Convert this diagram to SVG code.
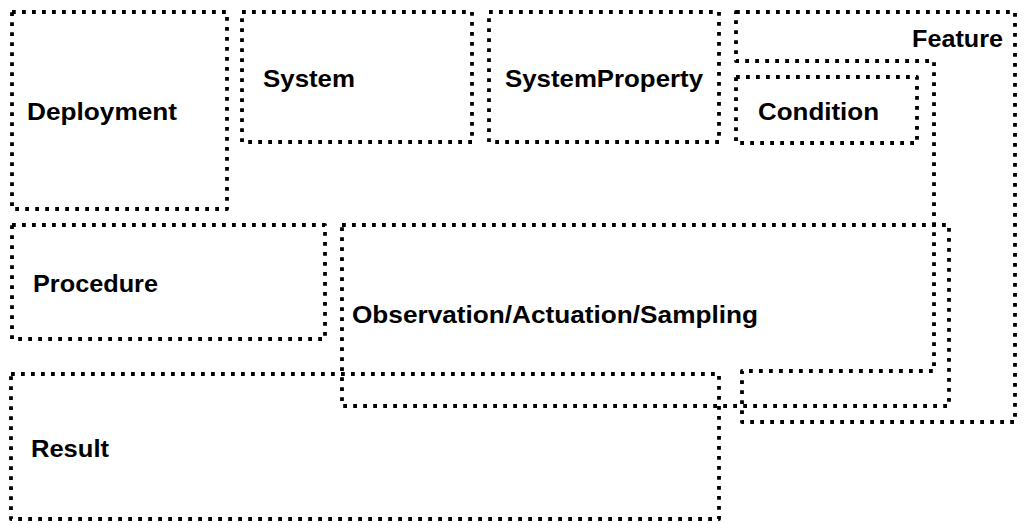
<svg xmlns="http://www.w3.org/2000/svg" width="1026" height="523" viewBox="0 0 1026 523">
  <style>
    .box { fill: none; stroke: #000; stroke-width: 3.8; stroke-dasharray: 3.8 6.2; stroke-linejoin: round; }
    .lbl { font-family: "Liberation Sans", Arial, sans-serif; font-weight: bold; font-size: 24.5px; fill: #000; }
  </style>
  <rect width="1026" height="523" fill="#fff"/>

  <g id="feature">
    <path class="box" d="M736,12 L1015,12 L1015,422 L742,422 L742,371 L934,371 L934,61 L736,61 Z"/>
    <text class="lbl" x="1003" y="47" text-anchor="end" textLength="91" lengthAdjust="spacingAndGlyphs">Feature</text>
  </g>

  <g id="deployment">
    <rect class="box" x="12" y="12" width="215" height="197"/>
    <text class="lbl" x="27" y="120" textLength="150" lengthAdjust="spacingAndGlyphs">Deployment</text>
  </g>

  <g id="system">
    <rect class="box" x="242" y="12" width="230" height="130"/>
    <text class="lbl" x="263" y="87" textLength="92" lengthAdjust="spacingAndGlyphs">System</text>
  </g>

  <g id="system-property">
    <rect class="box" x="489" y="12" width="230" height="130"/>
    <text class="lbl" x="505" y="87" textLength="198" lengthAdjust="spacingAndGlyphs">SystemProperty</text>
  </g>

  <g id="condition">
    <rect class="box" x="736" y="77" width="181" height="66"/>
    <text class="lbl" x="758" y="120" textLength="121" lengthAdjust="spacingAndGlyphs">Condition</text>
  </g>

  <g id="procedure">
    <rect class="box" x="12" y="225" width="313" height="114"/>
    <text class="lbl" x="33" y="292" textLength="125" lengthAdjust="spacingAndGlyphs">Procedure</text>
  </g>

  <g id="observation">
    <rect class="box" x="342" y="225" width="607" height="181"/>
    <text class="lbl" x="352" y="323" textLength="406" lengthAdjust="spacingAndGlyphs">Observation/Actuation/Sampling</text>
  </g>

  <g id="result">
    <rect class="box" x="11" y="374" width="708" height="145"/>
    <text class="lbl" x="31" y="457" textLength="78" lengthAdjust="spacingAndGlyphs">Result</text>
  </g>

  <g id="connectors"/>
</svg>
